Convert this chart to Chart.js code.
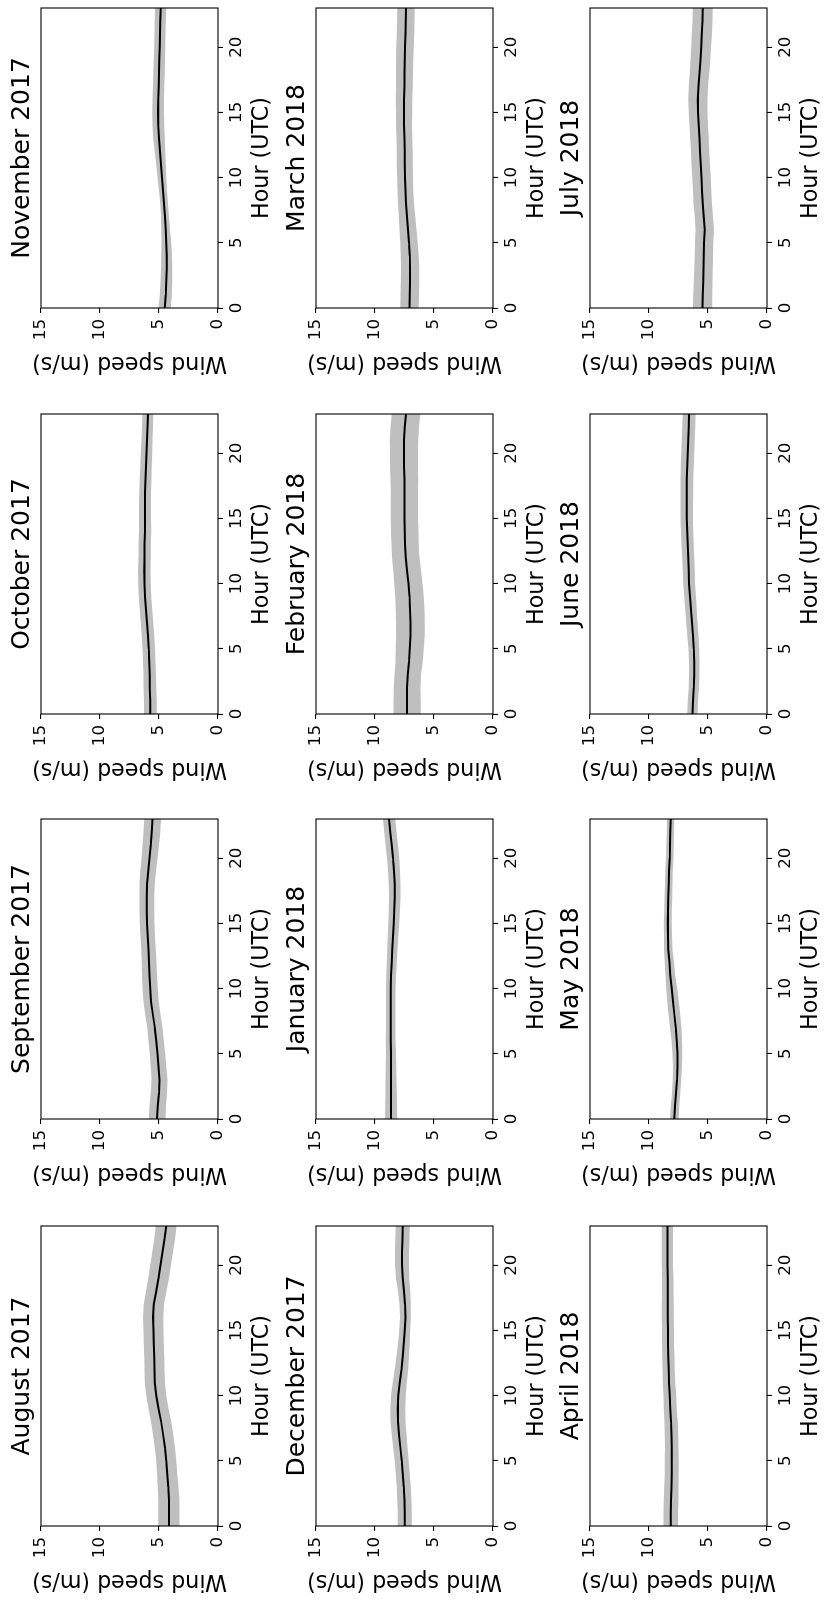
<!DOCTYPE html>
<html>
<head>
<meta charset="utf-8">
<title>Diurnal wind speed by month</title>
<script src="https://cdn.jsdelivr.net/npm/chart.js@4.4.1/dist/chart.umd.min.js"></script>
<style>
  html, body { margin: 0; padding: 0; background: #fff; overflow: hidden; }
  body { width: 824px; height: 1599px; position: relative; }
  /* the landscape figure is laid out 1599x824 and turned a quarter-turn counter-clockwise */
  #figure {
    position: absolute; left: 0; top: 0;
    width: 1599px; height: 824px;
    transform-origin: 0 0;
    transform: translate(0px, 1599px) rotate(-90deg);
    background: #fff;
  }
  #figure canvas { position: absolute; }
</style>
</head>
<body>
<div id="figure"></div>
<script>
// ---- data -----------------------------------------------------------------
const hours = [0,1,2,3,4,5,6,7,8,9,10,11,12,13,14,15,16,17,18,19,20,21,22,23];
const hourTicks = [0, 5, 10, 15, 20];
const speedTicks = [0, 5, 10, 15];

const monthTitles = [
  'August 2017', 'September 2017', 'October 2017', 'November 2017',
  'December 2017', 'January 2018', 'February 2018', 'March 2018',
  'April 2018', 'May 2018', 'June 2018', 'July 2018'
];

// hourly mean wind speed (m/s)
const meanAug2017 = [4.16,4.16,4.16,4.22,4.31,4.39,4.50,4.65,4.82,5.04,5.24,5.35,5.38,5.41,5.44,5.47,5.50,5.44,5.24,5.04,4.87,4.70,4.53,4.39];
const meanSep2017 = [5.16,5.10,5.01,4.96,5.04,5.13,5.24,5.35,5.52,5.67,5.75,5.81,5.84,5.89,5.95,6.01,6.03,6.03,6.01,5.92,5.81,5.69,5.61,5.55];
const meanOct2017 = [5.74,5.74,5.78,5.78,5.82,5.86,5.94,6.02,6.10,6.18,6.22,6.26,6.22,6.22,6.18,6.18,6.18,6.18,6.14,6.10,6.06,6.02,5.98,5.94];
const meanNov2017 = [4.52,4.43,4.38,4.35,4.35,4.38,4.43,4.49,4.57,4.66,4.75,4.83,4.92,5.00,5.06,5.08,5.06,5.03,5.00,4.97,4.94,4.92,4.89,4.86];
const meanDec2017 = [7.48,7.48,7.51,7.56,7.65,7.73,7.85,7.96,8.05,8.07,8.02,7.90,7.76,7.65,7.56,7.48,7.42,7.45,7.54,7.65,7.71,7.71,7.68,7.65];
const meanJan2018 = [8.64,8.64,8.64,8.64,8.64,8.64,8.67,8.67,8.67,8.67,8.67,8.64,8.58,8.53,8.47,8.41,8.36,8.33,8.33,8.39,8.47,8.58,8.70,8.81];
const meanFeb2018 = [7.28,7.28,7.28,7.22,7.11,7.05,7.00,7.00,7.03,7.08,7.17,7.28,7.39,7.45,7.48,7.51,7.51,7.51,7.51,7.54,7.54,7.54,7.48,7.37];
const meanMar2018 = [7.08,7.05,7.03,7.03,7.05,7.11,7.20,7.28,7.37,7.42,7.45,7.48,7.48,7.51,7.54,7.54,7.54,7.51,7.51,7.48,7.45,7.42,7.39,7.37];
const meanApr2018 = [8.16,8.16,8.13,8.10,8.07,8.07,8.07,8.10,8.13,8.19,8.24,8.30,8.33,8.36,8.39,8.39,8.41,8.41,8.41,8.41,8.44,8.44,8.44,8.44];
const meanMay2018 = [7.85,7.79,7.71,7.62,7.59,7.59,7.65,7.73,7.85,7.96,8.07,8.19,8.27,8.36,8.39,8.41,8.39,8.36,8.33,8.30,8.24,8.22,8.19,8.16];
const meanJun2018 = [6.32,6.28,6.20,6.16,6.16,6.20,6.28,6.36,6.44,6.52,6.60,6.64,6.68,6.72,6.76,6.80,6.80,6.80,6.80,6.76,6.72,6.68,6.64,6.60];
const meanJul2018 = [5.47,5.44,5.41,5.38,5.35,5.33,5.27,5.35,5.44,5.50,5.55,5.61,5.67,5.72,5.78,5.84,5.86,5.81,5.72,5.64,5.58,5.52,5.47,5.44];

// hourly standard deviation (m/s), shaded as mean +/- std
const stdAug2017 = [0.90,0.90,0.90,0.88,0.86,0.85,0.85,0.85,0.85,0.85,0.85,0.85,0.85,0.85,0.85,0.85,0.85,0.86,0.87,0.88,0.88,0.88,0.88,0.88];
const stdSep2017 = [0.71,0.70,0.68,0.67,0.66,0.65,0.65,0.65,0.64,0.64,0.64,0.63,0.63,0.62,0.62,0.62,0.62,0.63,0.64,0.66,0.68,0.70,0.71,0.71];
const stdOct2017 = [0.54,0.54,0.54,0.53,0.53,0.53,0.53,0.53,0.53,0.53,0.53,0.53,0.52,0.52,0.52,0.51,0.51,0.50,0.50,0.49,0.48,0.47,0.47,0.46];
const stdNov2017 = [0.52,0.51,0.50,0.48,0.45,0.41,0.37,0.34,0.33,0.34,0.37,0.41,0.45,0.48,0.50,0.50,0.49,0.48,0.48,0.47,0.47,0.47,0.47,0.47];
const stdDec2017 = [0.60,0.60,0.60,0.60,0.60,0.60,0.61,0.62,0.63,0.64,0.63,0.60,0.57,0.53,0.50,0.47,0.46,0.48,0.52,0.56,0.59,0.60,0.60,0.60];
const stdJan2018 = [0.52,0.50,0.48,0.46,0.44,0.42,0.41,0.40,0.40,0.40,0.40,0.41,0.42,0.43,0.45,0.46,0.48,0.49,0.50,0.51,0.52,0.52,0.52,0.52];
const stdFeb2018 = [1.16,1.15,1.14,1.12,1.15,1.19,1.21,1.22,1.22,1.21,1.19,1.17,1.16,1.16,1.16,1.16,1.16,1.16,1.17,1.18,1.19,1.20,1.20,1.20];
const stdMar2018 = [0.78,0.78,0.78,0.77,0.76,0.74,0.72,0.70,0.68,0.67,0.67,0.67,0.67,0.67,0.68,0.69,0.70,0.71,0.72,0.73,0.74,0.74,0.74,0.74];
const stdApr2018 = [0.62,0.62,0.62,0.61,0.60,0.59,0.58,0.57,0.56,0.55,0.54,0.53,0.52,0.52,0.51,0.51,0.50,0.50,0.49,0.49,0.48,0.48,0.48,0.48];
const stdMay2018 = [0.37,0.36,0.35,0.36,0.38,0.41,0.45,0.48,0.50,0.49,0.46,0.42,0.39,0.36,0.34,0.33,0.32,0.32,0.32,0.32,0.31,0.31,0.31,0.31];
const stdJun2018 = [0.44,0.44,0.44,0.44,0.45,0.46,0.47,0.48,0.49,0.50,0.50,0.51,0.51,0.52,0.52,0.53,0.53,0.54,0.54,0.55,0.55,0.55,0.55,0.55];
const stdJul2018 = [0.82,0.81,0.80,0.79,0.78,0.78,0.78,0.78,0.78,0.78,0.78,0.78,0.78,0.78,0.79,0.80,0.81,0.82,0.83,0.84,0.84,0.85,0.85,0.85];

const meanSeries = [meanAug2017, meanSep2017, meanOct2017, meanNov2017, meanDec2017, meanJan2018,
                    meanFeb2018, meanMar2018, meanApr2018, meanMay2018, meanJun2018, meanJul2018];
const stdSeries  = [stdAug2017, stdSep2017, stdOct2017, stdNov2017, stdDec2017, stdJan2018,
                    stdFeb2018, stdMar2018, stdApr2018, stdMay2018, stdJun2018, stdJul2018];

// ---- layout (figure pixels, landscape orientation) -------------------------
const axesLeft = [73, 480, 885, 1291];   // plot-area left edge per column
const axesTop  = [41, 316, 590];         // plot-area top edge per row
const PAD_L = 73, PAD_T = 41, PLOT_W = 300, PLOT_H = 177, PAD_R = 12, XAXIS_H = 60;

Chart.defaults.font.family = "'DejaVu Sans', 'Liberation Sans', sans-serif";
Chart.defaults.color = '#000';

// closed box around each plot area
const axesFrame = {
  id: 'axesFrame',
  afterDatasetsDraw(chart) {
    const { ctx, chartArea: a } = chart;
    ctx.save();
    ctx.strokeStyle = '#000';
    ctx.lineWidth = 1.1;
    ctx.strokeRect(a.left, a.top, a.right - a.left, a.bottom - a.top);
    ctx.restore();
  }
};

const tickGrid = { display: true, drawOnChartArea: false, drawTicks: true, tickLength: 5, color: '#000', lineWidth: 1.1 };
const fig = document.getElementById('figure');

monthTitles.forEach((title, k) => {
  const row = Math.floor(k / 4), col = k % 4;
  const mean = meanSeries[k], std = stdSeries[k];

  const canvas = document.createElement('canvas');
  const cw = PAD_L + PLOT_W + PAD_R, ch = PAD_T + PLOT_H + XAXIS_H;
  canvas.width = cw; canvas.height = ch;
  canvas.style.width = cw + 'px'; canvas.style.height = ch + 'px';
  canvas.style.left = (axesLeft[col] - PAD_L) + 'px';
  canvas.style.top = (axesTop[row] - PAD_T) + 'px';
  fig.appendChild(canvas);

  new Chart(canvas, {
    type: 'line',
    data: {
      datasets: [
        { data: hours.map((h, i) => ({ x: h, y: mean[i] })),
          borderColor: '#000', borderWidth: 2, pointRadius: 0, fill: false, tension: 0 },
        { data: hours.map((h, i) => ({ x: h, y: mean[i] + std[i] })),
          borderWidth: 0, borderColor: 'rgba(0,0,0,0)', pointRadius: 0,
          backgroundColor: '#bfbfbf', fill: '+1', tension: 0 },
        { data: hours.map((h, i) => ({ x: h, y: mean[i] - std[i] })),
          borderWidth: 0, borderColor: 'rgba(0,0,0,0)', pointRadius: 0, fill: false, tension: 0 }
      ]
    },
    options: {
      responsive: false,
      animation: false,
      devicePixelRatio: 1,
      events: [],
      layout: { padding: { left: 0, right: PAD_R, top: PAD_T - 33.7, bottom: 0 } },
      plugins: {
        legend: { display: false },
        tooltip: { enabled: false },
        title: {
          display: true, text: title, fullSize: false, color: '#000',
          font: { size: 25, weight: 'normal' },
          padding: { top: 0, bottom: 3.7 }
        }
      },
      scales: {
        x: {
          type: 'linear', min: 0, max: 23,
          afterBuildTicks: s => { s.ticks = hourTicks.map(v => ({ value: v })); },
          afterFit: s => { s.height = XAXIS_H; },
          grid: tickGrid,
          border: { display: false },
          ticks: { font: { size: 16.67 }, color: '#000', padding: 3.5, maxRotation: 0, minRotation: 0, autoSkip: false },
          title: { display: true, text: 'Hour (UTC)', color: '#000', font: { size: 22.2 }, padding: { top: 0, bottom: 2.3 } }
        },
        y: {
          type: 'linear', min: 0, max: 15,
          afterBuildTicks: s => { s.ticks = speedTicks.map(v => ({ value: v })); },
          afterFit: s => { s.width = PAD_L; },
          grid: tickGrid,
          border: { display: false },
          ticks: { font: { size: 16.67 }, color: '#000', padding: 6, autoSkip: false },
          title: { display: true, text: 'Wind speed (m/s)', color: '#000', font: { size: 22.2 }, padding: { top: 4.6, bottom: 0 } }
        }
      }
    },
    plugins: [axesFrame]
  });
});
</script>
</body>
</html>
